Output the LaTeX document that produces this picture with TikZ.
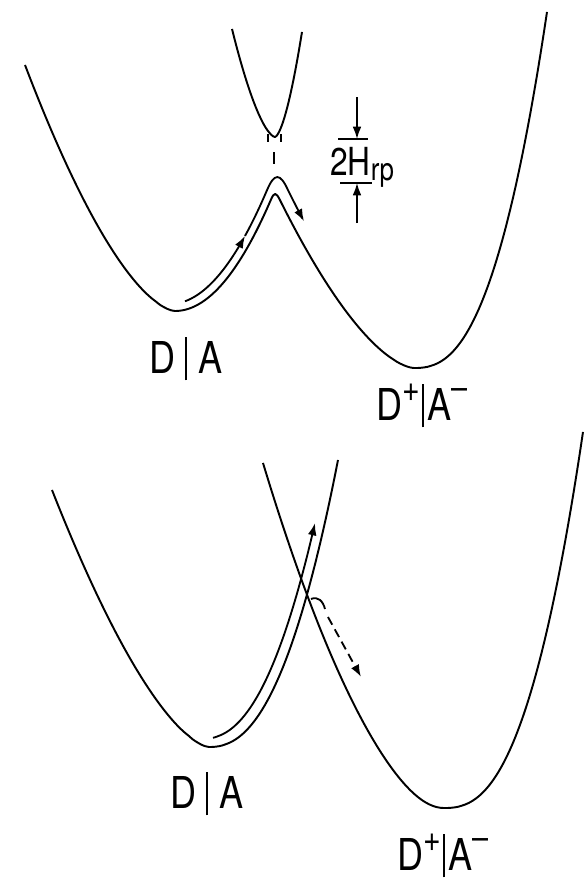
\documentclass[tikz,border=0pt]{standalone}
\usepackage{fontspec}
\newfontfamily\lblfont{TeX Gyre Heros}[FakeStretch=0.82]
\usetikzlibrary{arrows.meta}

\newcommand{\vsep}{\rule[-0.17em]{0.05em}{1.0em}}
\newcommand{\supplus}{\raisebox{0.42em}{\fontsize{21}{21}\selectfont +}}
\newcommand{\supminus}{\raisebox{0.46em}{\fontsize{20}{20}\selectfont\textendash}}

\begin{document}
\begin{tikzpicture}[
    x=0.02cm, y=-0.02cm,
    every node/.style={font=\lblfont\fontsize{25}{30}\selectfont, inner sep=0pt},
    surface/.style={line width=1.1pt, line join=round},
    track/.style={line width=1.05pt},
    gapbar/.style={line width=1pt},
    >={Latex[length=7pt,width=5pt]},
  ]
  \useasboundingbox (0,0) rectangle (586,880);

  % Adiabatic: lower surface
  \draw[surface]
    plot[domain=25:175, samples=40, smooth] (\x,{311-246*((175.01-\x)/150)^1.6})
    -- plot[domain=175:271, samples=30, smooth] (\x,{311-121*((\x-175)/100)^2})
    .. controls (274.2,192.1) and (276,192) .. (280,200.1)
    -- plot[domain=280:414, samples=40, smooth] (\x,{368-178*((414.01-\x)/139)^1.6})
    -- plot[domain=414:547, samples=40, smooth] (\x,{368-356*((\x-413.99)/133)^2.5});

  % Adiabatic: upper surface
  \draw[surface]
    plot[domain=232:275, samples=25, smooth] (\x,{137-108*((275.01-\x)/43)^1.6})
    -- plot[domain=275:302, samples=20, smooth] (\x,{137-105*((\x-274.99)/27)^1.6});
  \draw[track] (268,134) -- (268,142) (281,134) -- (281,142);
  \draw[line width=1.4pt] (274,152) -- (274,164);

  % Adiabatic: path over the barrier
  \coordinate (midA) at (245,235.9);
  \draw[track, ->] plot[domain=185:245, samples=20, smooth] (\x,{304-121*((\x-170)/100)^2});
  \draw[track, ->]
    plot[domain=245:267, samples=10, smooth] (\x,{304-121*((\x-170)/100)^2})
    .. controls (274.4,172.7) and (280.1,172.7) .. (288,190.1)
    -- plot[domain=288:304, samples=8, smooth] (\x,{362-178*((424-\x)/139)^1.6});

  % Splitting 2H_rp
  \coordinate (hTop) at (357,139);
  \coordinate (hBot) at (357,183);
  \coordinate (hTopStart) at (357,97);
  \coordinate (hBotStart) at (357,223);
  \draw[gapbar] (338,139) -- (368,139);
  \draw[gapbar] (340,183) -- (372,183);
  \draw[gapbar, ->] (hTopStart) -- (hTop);
  \draw[gapbar, ->] (hBotStart) -- (hBot);
  \node[anchor=base west, font=\lblfont\fontsize{22}{26}\selectfont] (hrp) at (330,175)
    {2H\textsubscript{\fontsize{18}{20}\selectfont rp}};

  % Adiabatic: labels
  \node[anchor=base] (da1) at (186,373) {D\hspace{0.22em}\vsep\hspace{0.25em}A};
  \node[anchor=base] (dpa1) at (422,420) {D\supplus\hspace{0.04em}\vsep\hspace{0.08em}A\supminus};

  % Nonadiabatic: D|A surface
  \draw[surface]
    plot[domain=52:209, samples=40, smooth] (\x,{747-257*((209.01-\x)/157)^1.55})
    -- plot[domain=209:338, samples=40, smooth] (\x,{747-287*((\x-208.99)/129)^2.3});

  % Nonadiabatic: D+|A- surface
  \draw[surface]
    plot[domain=263:444, samples=50, smooth]
      (\x,{808-80.5*(sqrt(((444-\x)/100)^2+0.16)-0.4)-69.6*((444-\x)/100)^2})
    -- plot[domain=444:583, samples=40, smooth] (\x,{808-376*((\x-443.99)/139)^2.5});

  % Nonadiabatic: path through the crossing
  \draw[track, ->] plot[domain=213:315, samples=40, smooth] (\x,{739-287*((\x-201)/129)^2.3});

  % Nonadiabatic: hop
  \coordinate (hop) at (311,599);
  \coordinate (hopEnd) at (361,677);
  \draw[track] (hop) .. controls (318,596) and (323,601) .. (325,609);
  \draw[track, dash pattern=on 5pt off 3pt, ->] (328,617) -- (hopEnd);

  % Nonadiabatic: labels
  \node[anchor=base] (da2) at (207,808) {D\hspace{0.22em}\vsep\hspace{0.25em}A};
  \node[anchor=base] (dpa2) at (443,870) {D\supplus\hspace{0.04em}\vsep\hspace{0.08em}A\supminus};
\end{tikzpicture}
\end{document}
